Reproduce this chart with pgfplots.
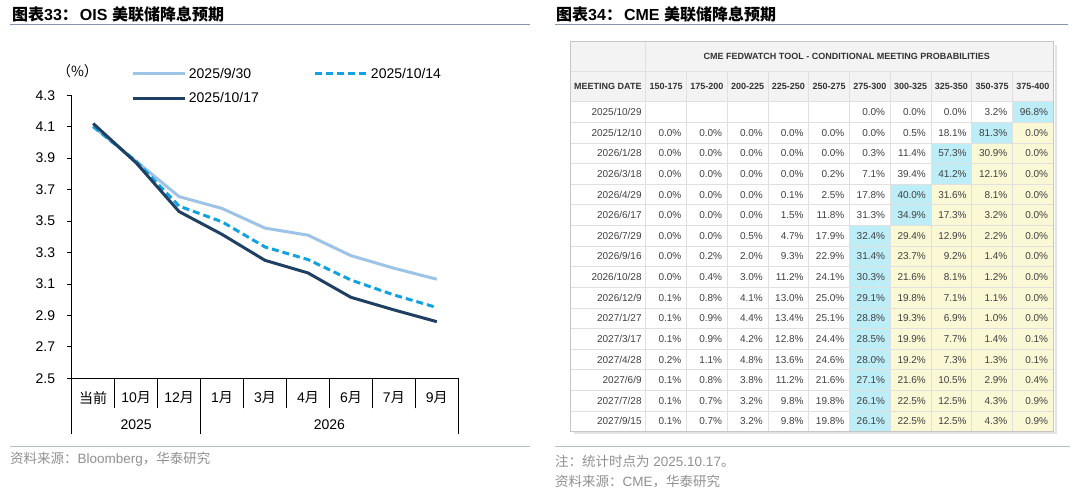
\documentclass[border=0pt]{standalone}
\usepackage{pgfplots}
\pgfplotsset{compat=1.18}
\usepackage{pgfplotstable}
\usepackage{fontspec}
\setmainfont{Liberation Sans}
\newfontfamily\cjk{Noto Sans CJK SC}

\definecolor{lightline}{HTML}{9DC3E6}
\definecolor{midline}{HTML}{12A2E0}
\definecolor{darkline}{HTML}{1F3F63}
\definecolor{cellcyan}{HTML}{BDEDF7}
\definecolor{cellyellow}{HTML}{FBF8D6}
\definecolor{headgray}{HTML}{F3F3F3}
\definecolor{gridgray}{HTML}{E0E0E0}
\definecolor{rulecol}{HTML}{8496B0}
\definecolor{rulelight}{HTML}{B4C0CC}
\definecolor{srcgray}{HTML}{909090}
\definecolor{celltext}{HTML}{404040}

% OIS implied policy rate path (%)
\pgfplotstableread{
x light mid dark
0 4.10 4.10 4.12
1 3.88 3.88 3.87
2 3.655 3.595 3.56
3 3.58 3.495 3.415
4 3.455 3.335 3.25
5 3.41 3.255 3.17
6 3.28 3.125 3.015
7 3.20 3.03 2.935
8 3.13 2.95 2.86
}\ois

% CME FedWatch table; k = column of the highlighted (cyan) cell
\pgfplotstableread{
r date c1 c2 c3 c4 c5 c6 c7 c8 c9 c10 k
15.5 2025/10/29 nan nan nan nan nan 0.0 0.0 0.0 3.2 96.8 10
14.5 2025/12/10 0.0 0.0 0.0 0.0 0.0 0.0 0.5 18.1 81.3 0.0 9
13.5 2026/1/28 0.0 0.0 0.0 0.0 0.0 0.3 11.4 57.3 30.9 0.0 8
12.5 2026/3/18 0.0 0.0 0.0 0.0 0.2 7.1 39.4 41.2 12.1 0.0 8
11.5 2026/4/29 0.0 0.0 0.0 0.1 2.5 17.8 40.0 31.6 8.1 0.0 7
10.5 2026/6/17 0.0 0.0 0.0 1.5 11.8 31.3 34.9 17.3 3.2 0.0 7
9.5 2026/7/29 0.0 0.0 0.5 4.7 17.9 32.4 29.4 12.9 2.2 0.0 6
8.5 2026/9/16 0.0 0.2 2.0 9.3 22.9 31.4 23.7 9.2 1.4 0.0 6
7.5 2026/10/28 0.0 0.4 3.0 11.2 24.1 30.3 21.6 8.1 1.2 0.0 6
6.5 2026/12/9 0.1 0.8 4.1 13.0 25.0 29.1 19.8 7.1 1.1 0.0 6
5.5 2027/1/27 0.1 0.9 4.4 13.4 25.1 28.8 19.3 6.9 1.0 0.0 6
4.5 2027/3/17 0.1 0.9 4.2 12.8 24.4 28.5 19.9 7.7 1.4 0.1 6
3.5 2027/4/28 0.2 1.1 4.8 13.6 24.6 28.0 19.2 7.3 1.3 0.1 6
2.5 2027/6/9 0.1 0.8 3.8 11.2 21.6 27.1 21.6 10.5 2.9 0.4 6
1.5 2027/7/28 0.1 0.7 3.2 9.8 19.8 26.1 22.5 12.5 4.3 0.9 6
0.5 2027/9/15 0.1 0.7 3.2 9.8 19.8 26.1 22.5 12.5 4.3 0.9 6
}\cme

\begin{document}
\begin{tikzpicture}[x=1pt,y=1pt]
\path[use as bounding box] (0pt,0pt) rectangle (1080pt,494pt);

% titles and rules
\node[anchor=west, inner sep=0pt] at (12pt,480pt) {\fontsize{16}{18}\selectfont
  {\cjk\bfseries 图表}\textbf{33}{\cjk\bfseries ：}\hspace{2pt}\textbf{OIS} {\cjk\bfseries 美联储降息预期}};
\node[anchor=west, inner sep=0pt] at (556pt,480pt) {\fontsize{16}{18}\selectfont
  {\cjk\bfseries 图表}\textbf{34}{\cjk\bfseries ：}\hspace{2pt}\textbf{CME} {\cjk\bfseries 美联储降息预期}};
\draw[rulecol, line width=1pt] (10pt,469pt) -- (530pt,469pt);
\draw[rulecol, line width=1pt] (555pt,469pt) -- (1068pt,469pt);
\draw[rulelight, line width=1pt] (10pt,47pt) -- (530pt,47pt);
\draw[rulelight, line width=1pt] (555pt,47pt) -- (1070pt,47pt);

% sources
\node[anchor=west, inner sep=0pt, text=srcgray] at (10pt,35pt) {\fontsize{13.5}{16}\selectfont
  {\cjk 资料来源：}Bloomberg{\cjk ，华泰研究}};
\node[anchor=west, inner sep=0pt, text=srcgray] at (555pt,33pt) {\fontsize{13.5}{16}\selectfont
  {\cjk 注：统计时点为} 2025.10.17{\cjk 。}};
\node[anchor=west, inner sep=0pt, text=srcgray] at (555pt,12.5pt) {\fontsize{13.5}{16}\selectfont
  {\cjk 资料来源：}CME{\cjk ，华泰研究}};

% unit label
\node[inner sep=0pt] at (77.5pt,423pt) {\fontsize{14}{16}\selectfont\cjk （\%）};

% ---------- left: OIS chart ----------
\begin{axis}[
  at={(71.7pt,115.7pt)}, anchor=south west, scale only axis,
  width=386.6pt, height=283.1pt,
  xmin=-0.5, xmax=8.5, ymin=2.5, ymax=4.3,
  axis x line*=bottom, axis y line*=left,
  axis line style={black, line width=0.8pt},
  tick style={black, line width=0.8pt},
  tick align=outside,
  major tick length=5pt, minor tick length=30pt,
  xtick={0,...,8},
  xticklabels={{\cjk 当前},{10\cjk 月},{12\cjk 月},{1\cjk 月},{3\cjk 月},{4\cjk 月},{6\cjk 月},{7\cjk 月},{9\cjk 月}},
  major x tick style={draw=none},
  minor xtick={-0.5,0.5,...,8.5},
  extra x ticks={-0.5,2.5,8.5},
  extra x tick labels={{},{},{}},
  extra x tick style={major x tick style={draw=black}, major tick length=56pt},
  ytick={2.5,2.7,2.9,3.1,3.3,3.5,3.7,3.9,4.1,4.3},
  yticklabel={\pgfmathprintnumber[fixed,fixed zerofill,precision=1,assume math mode=true]{\tick}},
  tick label style={font=\fontsize{14}{16}\selectfont},
  yticklabel style={xshift=-8pt},
  xticklabel style={yshift=-5pt},
  clip=false,
  legend columns=2,
  legend cell align=left,
  legend image code/.code={\draw[#1] (0pt,0pt) -- (52pt,0pt);},
  legend style={at={(0,1)}, anchor=north west, xshift=60pt, yshift=29.5pt,
    draw=none, fill=none, inner sep=0pt, row sep=9pt,
    font=\fontsize{14}{16}\selectfont,
    nodes={inner sep=2pt},
    /tikz/every even column/.append style={column sep=53pt}},
]
\addplot[lightline, line width=3pt] table[x=x, y=light] {\ois};
\addlegendentry{2025/9/30}
\addplot[midline, line width=3pt, dash pattern=on 7pt off 4pt] table[x=x, y=mid] {\ois};
\addlegendentry{2025/10/14}
\addplot[darkline, line width=3pt] table[x=x, y=dark] {\ois};
\addlegendentry{2025/10/17}
\node at (axis cs:1,2.5) [yshift=-46.5pt, font=\fontsize{14}{16}\selectfont] {2025};
\node at (axis cs:5.5,2.5) [yshift=-46.5pt, font=\fontsize{14}{16}\selectfont] {2026};
\end{axis}

% ---------- right: CME FedWatch table ----------
\begin{axis}[
  at={(570pt,62.3pt)}, anchor=south west, scale only axis,
  width=483.3pt, height=390pt,
  xmin=-1.86, xmax=10, ymin=0, ymax=18.909,
  xtick=\empty, ytick=\empty,
  axis line style={draw=gray!45},
  axis on top, clip=false,
]
% drop shadow
\addplot[gray!22, line width=2.5pt] coordinates {(10.06,18.75) (10.06,-0.07) (-1.75,-0.07)};
% header background
\addplot[xbar, bar width=2.909, bar shift=0pt, fill=headgray, draw=none]
  coordinates {(10,17.4545) (-1.86,17.4545)};
% cell shading: yellow to the right, cyan for the modal cell, white to the left
\addplot[xbar, bar width=1, bar shift=0pt, fill=cellyellow, draw=none] table[x expr=10, y=r] {\cme};
\addplot[xbar, bar width=1, bar shift=0pt, fill=cellcyan, draw=none] table[x=k, y=r] {\cme};
\addplot[xbar, bar width=1, bar shift=0pt, fill=white, draw=none] table[x expr=\thisrow{k}-1, y=r] {\cme};
% cell borders
\addplot[ycomb, gridgray, line width=0.8pt] coordinates {(1,17.4545) (2,17.4545) (3,17.4545) (4,17.4545) (5,17.4545) (6,17.4545) (7,17.4545) (8,17.4545) (9,17.4545)};
\addplot[ycomb, gridgray, line width=0.8pt] coordinates {(0,18.909)};
\addplot[xcomb, gridgray, line width=0.8pt] coordinates {(10,1) (10,2) (10,3) (10,4) (10,5) (10,6) (10,7) (10,8) (10,9) (10,10) (10,11) (10,12) (10,13) (10,14) (10,15) (10,16) (10,17.4545)};
\addplot[xcomb, gridgray, line width=0.8pt] coordinates {(-1.86,1) (-1.86,2) (-1.86,3) (-1.86,4) (-1.86,5) (-1.86,6) (-1.86,7) (-1.86,8) (-1.86,9) (-1.86,10) (-1.86,11) (-1.86,12) (-1.86,13) (-1.86,14) (-1.86,15) (-1.86,16) (-1.86,17.4545)};
% header text
\addplot[draw=none, nodes near coords, point meta=explicit symbolic,
  nodes near coords style={anchor=center, inner sep=0pt, text=black!80, font=\bfseries\fontsize{9}{10}\selectfont}]
  coordinates {(4.93,18.18) [CME FEDWATCH TOOL - CONDITIONAL MEETING PROBABILITIES]
  (-0.93,16.727) [MEETING DATE]
  (0.5,16.727) [150-175] (1.5,16.727) [175-200] (2.5,16.727) [200-225]
  (3.5,16.727) [225-250] (4.5,16.727) [250-275] (5.5,16.727) [275-300]
  (6.5,16.727) [300-325] (7.5,16.727) [325-350] (8.5,16.727) [350-375]
  (9.5,16.727) [375-400]};
% meeting dates
\addplot[draw=none, nodes near coords, point meta=explicit symbolic,
  nodes near coords style={anchor=east, inner sep=0pt, xshift=-4pt, text height=7.2pt, text depth=0pt,
    text=celltext, font=\fontsize{10}{12}\selectfont}]
  table[x expr=0, y=r, meta=date] {\cme};
% probabilities (first meeting has no quotes below 275)
\pgfplotsinvokeforeach{1,...,10}{
\addplot[draw=none, point meta=explicit,
  skip coords between index={0}{\ifnum#1<6 1\else 0\fi},
  nodes near coords={\pgfmathprintnumber[fixed,fixed zerofill,precision=1,assume math mode=true]{\pgfplotspointmeta}\%},
  nodes near coords style={anchor=east, inner sep=0pt, xshift=-5pt, text height=7.2pt, text depth=0pt,
    text=celltext, font=\fontsize{10}{12}\selectfont}]
  table[x expr=#1, y=r, meta=c#1] {\cme};
}
\end{axis}
\end{tikzpicture}
\end{document}
